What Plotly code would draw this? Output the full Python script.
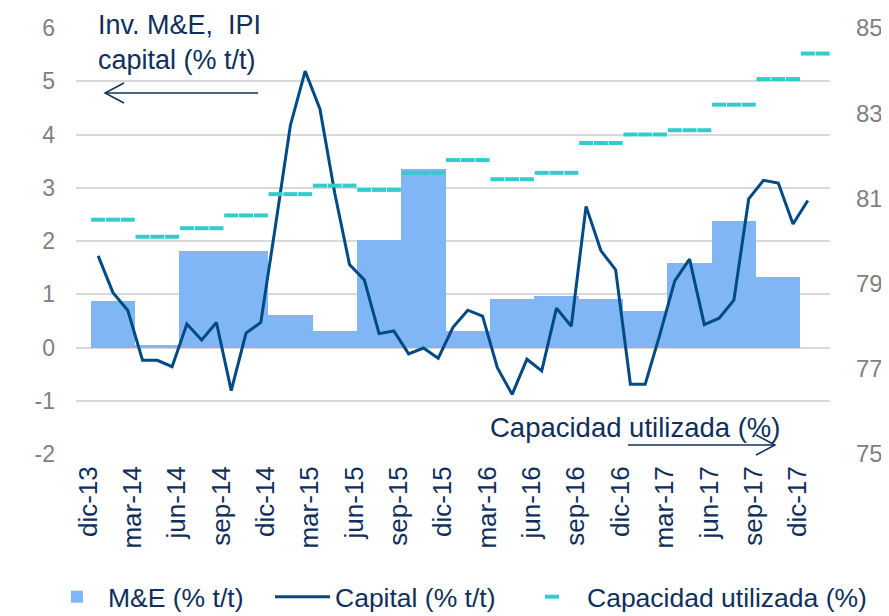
import numpy as np
import plotly.graph_objects as go

# eje mensual (categorías)
months = [
    'nov-13', 'dic-13',
    'ene-14', 'feb-14', 'mar-14', 'abr-14', 'may-14', 'jun-14', 'jul-14', 'ago-14', 'sep-14', 'oct-14', 'nov-14', 'dic-14',
    'ene-15', 'feb-15', 'mar-15', 'abr-15', 'may-15', 'jun-15', 'jul-15', 'ago-15', 'sep-15', 'oct-15', 'nov-15', 'dic-15',
    'ene-16', 'feb-16', 'mar-16', 'abr-16', 'may-16', 'jun-16', 'jul-16', 'ago-16', 'sep-16', 'oct-16', 'nov-16', 'dic-16',
    'ene-17', 'feb-17', 'mar-17', 'abr-17', 'may-17', 'jun-17', 'jul-17', 'ago-17', 'sep-17', 'oct-17', 'nov-17', 'dic-17',
    'ene-18',
]
tick_labels = ['dic-13', 'mar-14', 'jun-14', 'sep-14', 'dic-14', 'mar-15', 'jun-15', 'sep-15', 'dic-15',
               'mar-16', 'jun-16', 'sep-16', 'dic-16', 'mar-17', 'jun-17', 'sep-17', 'dic-17']

# M&E trimestral (% t/t), barras centradas en el mes central
me_quarters = ['ene-14', 'abr-14', 'jul-14', 'oct-14', 'ene-15', 'abr-15', 'jul-15', 'oct-15',
               'ene-16', 'abr-16', 'jul-16', 'oct-16', 'ene-17', 'abr-17', 'jul-17', 'oct-17']
me_values = [0.88, 0.05, 1.82, 1.82, 0.61, 0.31, 2.01, 3.35,
             0.31, 0.92, 0.96, 0.92, 0.69, 1.59, 2.38, 1.33]

# IPI capital mensual (% t/t), dic-13 .. dic-17
capital = [1.72, 1.03, 0.70, -0.24, -0.24, -0.36, 0.44, 0.14, 0.47, -0.81, 0.27, 0.47,
           2.30, 4.17, 5.19, 4.48, 2.90, 1.56, 1.27, 0.26, 0.31, -0.12, -0.01, -0.20,
           0.38, 0.70, 0.59, -0.38, -0.88, -0.22, -0.44, 0.74, 0.40, 2.65, 1.82, 1.46,
           -0.69, -0.69, 0.25, 1.25, 1.66, 0.43, 0.55, 0.89, 2.79, 3.14, 3.09, 2.32,
           2.76]

# capacidad utilizada (%), dic-13 .. ene-18
capacidad = [80.5, 80.5, 80.5, 80.1, 80.1, 80.1, 80.3, 80.3, 80.3, 80.6, 80.6, 80.6,
             81.1, 81.1, 81.1, 81.3, 81.3, 81.3, 81.2, 81.2, 81.2, 81.6, 81.6, 81.6,
             81.9, 81.9, 81.9, 81.45, 81.45, 81.45, 81.6, 81.6, 81.6, 82.3, 82.3, 82.3,
             82.5, 82.5, 82.5, 82.6, 82.6, 82.6, 83.2, 83.2, 83.2, 83.8, 83.8, 83.8,
             84.4, 84.4]

left_ticks = [-2, -1, 0, 1, 2, 3, 4, 5, 6]
right_ticks = [75, 77, 79, 81, 83, 85]

NAVY = '#0f2f5c'
GRAY = '#808080'
FONT = 'Liberation Sans, Arial, sans-serif'

# the page body adds an 8px margin, so the figure is drawn 8px smaller and
# every reference pixel position is shifted by OFF
OFF = 8
W, H = 889 - OFF, 616 - OFF
ML, MR, MT, MB = 76 - OFF, 59, 28 - OFF, 162


def px(x):
    return (x - OFF - ML) / (W - ML - MR)


def py(y):
    return (H - MB - (y - OFF)) / (H - MT - MB)


fig = go.Figure()

fig.add_trace(go.Bar(
    x=me_quarters, y=me_values, width=3, name='M&E (% t/t)', legend='legend',
    marker=dict(color='#80b6f5', line=dict(width=0)),
))
fig.add_trace(go.Scatter(
    x=months[1:1 + len(capital)], y=capital, mode='lines', name='Capital (% t/t)', legend='legend2',
    line=dict(color='#004a86', width=3),
))
fig.add_trace(go.Scatter(
    x=months[1:1 + len(capacidad)], y=capacidad, mode='markers', name='Capacidad utilizada (%)',
    legend='legend3', yaxis='y2',
    marker=dict(symbol='line-ew', size=10, line=dict(color='#33cccc', width=4)),
))

leg = dict(orientation='h', y=py(597), xanchor='left', yanchor='middle',
           font=dict(size=26.5, color=NAVY), bgcolor='rgba(0,0,0,0)')

fig.update_layout(
    width=W, height=H,
    margin=dict(l=ML, r=MR, t=MT, b=MB, autoexpand=False),
    plot_bgcolor='white', paper_bgcolor='white',
    font=dict(family=FONT, color=NAVY),
    bargap=0,
    showlegend=True,
    legend=dict(leg, x=px(46), itemwidth=52),
    legend2=dict(leg, x=px(270), itemwidth=55),
    legend3=dict(leg, x=px(517), itemwidth=60),
    xaxis=dict(
        type='category', categoryorder='array', categoryarray=months,
        range=[-0.5, len(months) - 0.5], automargin=False,
        tickmode='array', tickvals=tick_labels, ticktext=tick_labels,
        tickangle=-90, tickfont=dict(size=26, color=NAVY),
        ticks='', showgrid=False, showline=False, zeroline=False,
        ticklabelstandoff=6, ticklabelshift=-10,
    ),
    xaxis2=dict(
        overlaying='x', anchor='free', position=0.25,
        range=[-0.5, len(months) - 0.5], automargin=False,
        tickmode='array', tickvals=list(np.arange(-0.5, len(months), 3)),
        showticklabels=False, ticks='outside', ticklen=7, tickwidth=2, tickcolor='#8c8c8c',
        showline=True, linecolor='#8c8c8c', linewidth=2, showgrid=False, zeroline=False,
    ),
    yaxis=dict(
        range=[-2, 6], automargin=False,
        tickmode='array', tickvals=left_ticks, ticktext=[str(v) for v in left_ticks],
        showgrid=True, gridcolor='#d9d9d9', gridwidth=2,
        zeroline=False, showline=False,
        tickfont=dict(size=23, color=GRAY), ticklabelstandoff=20,
    ),
    yaxis2=dict(
        overlaying='y', side='right', range=[75, 85], automargin=False,
        tickmode='array', tickvals=right_ticks,
        showgrid=False, zeroline=False, showline=False,
        tickfont=dict(size=24, color=GRAY), ticklabelstandoff=25,
    ),
)

# textos y flechas
fig.add_annotation(xref='paper', yref='paper', x=px(96), y=py(8), xanchor='left', yanchor='top',
                   text='Inv. M&E,  IPI<br>capital (% t/t)', showarrow=False, align='left',
                   font=dict(size=27, color=NAVY))
fig.add_annotation(xref='paper', yref='paper', x=px(488), y=py(427), xanchor='left', yanchor='middle',
                   text='Capacidad utilizada (%)', showarrow=False,
                   font=dict(size=27.5, color=NAVY))

arrow = dict(color=NAVY, width=1.5)
fig.add_shape(type='line', xref='paper', yref='paper', x0=px(105), y0=py(93), x1=px(258), y1=py(93), line=arrow)
fig.add_shape(type='path', xref='paper', yref='paper', line=arrow,
              path=f'M{px(124)},{py(83)} L{px(105)},{py(93)} L{px(124)},{py(103)}')
fig.add_shape(type='line', xref='paper', yref='paper', x0=px(628), y0=py(445), x1=px(775), y1=py(445), line=arrow)
fig.add_shape(type='path', xref='paper', yref='paper', line=arrow,
              path=f'M{px(756)},{py(435)} L{px(775)},{py(445)} L{px(756)},{py(455)}')

fig.write_html("out.html")
